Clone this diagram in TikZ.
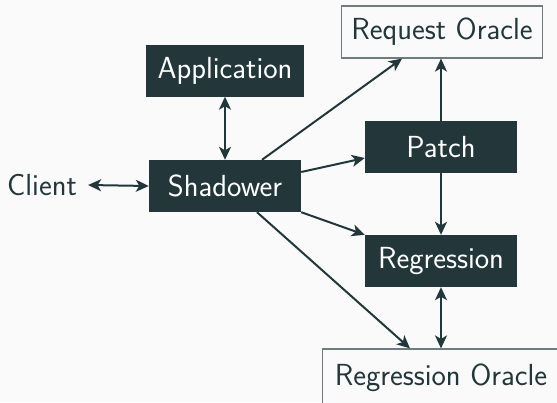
\documentclass[tikz,border=0pt]{standalone}
\usetikzlibrary{arrows.meta}
\definecolor{mdark}{HTML}{23373B}
\definecolor{mbg}{HTML}{FAFAFA}
\definecolor{mframe}{HTML}{6E7C7F}
\begin{document}
\begin{tikzpicture}[x=1pt,y=-1pt,
  font=\sffamily\fontsize{30.5}{36}\selectfont,
  darkbox/.style={fill=mdark,text=white,minimum width=152pt,minimum height=52pt,inner xsep=12pt,inner ysep=0pt},
  lightbox/.style={draw=mframe,line width=1.2pt,fill=mbg,text=mdark,minimum height=52pt,inner xsep=10pt,inner ysep=0pt},
  conn/.style={draw=mdark,line width=2pt,-{Stealth[length=13pt,width=12pt,inset=3.5pt]}},
  dconn/.style={draw=mdark,line width=2pt,{Stealth[length=13pt,width=12pt,inset=3.5pt]}-{Stealth[length=13pt,width=12pt,inset=3.5pt]}}]
\useasboundingbox (0,0) rectangle (557,402);
\clip (0,0) rectangle (557,402);
\fill[mbg] (0,0) rectangle (557,402);

\node[lightbox] (ro) at (442,32) {Request Oracle};
\node[darkbox] (app) at (225,70.5) {Application};
\node[darkbox] (sh) at (225,186) {Shadower};
\node[text=mdark,inner xsep=11pt] (cl) at (42,185) {Client};
\node[darkbox] (pa) at (441,147) {Patch};
\node[darkbox] (rg) at (441,261) {Regression};
\node[lightbox,inner xsep=12pt,minimum height=57pt] (rgo) at (441,377.5) {Regression Oracle};

\path[dconn] (cl.east) -- (sh.west);
\path[dconn] (app.south) -- (sh.north);
\path[conn] ([xshift=37pt]sh.north) -- ([xshift=-40pt]ro.south);
\path[conn] ([yshift=14pt]sh.east) -- ([yshift=-11pt]pa.west);
\path[conn] (sh.south east) -- (rg.north west);
\path[conn] ([xshift=32pt]sh.south) -- ([xshift=-31pt]rgo.north);
\path[conn] (pa.north) -- (ro.south -| pa.north);
\path[conn] (pa.south) -- (rg.north);
\path[dconn] (rg.south) -- (rgo.north -| rg.south);
\end{tikzpicture}
\end{document}
